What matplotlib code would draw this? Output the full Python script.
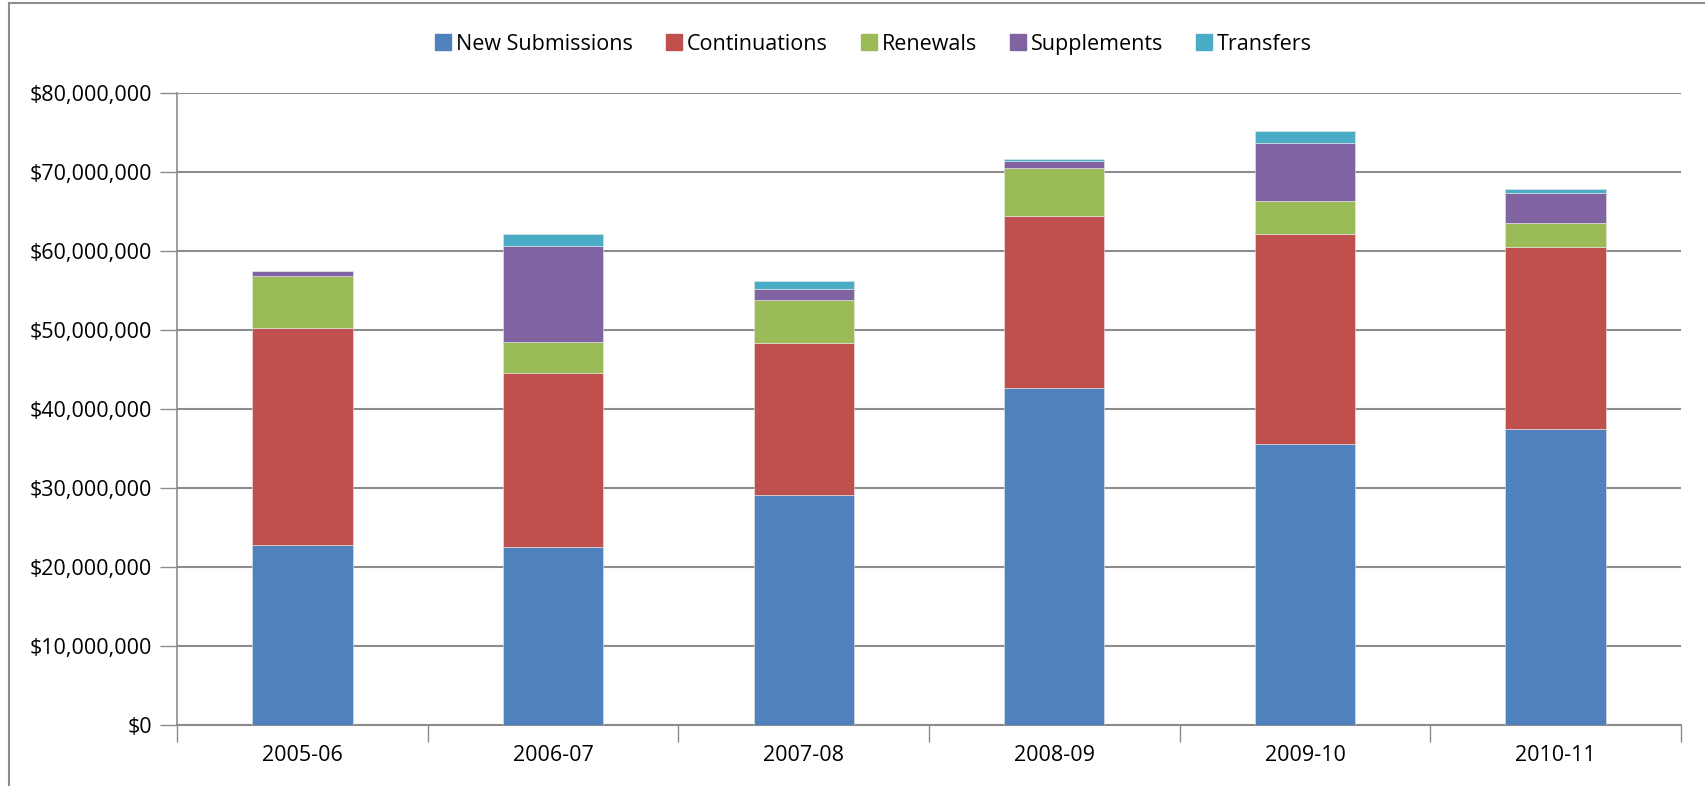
import numpy as np
import matplotlib.pyplot as plt
from matplotlib.ticker import FuncFormatter, FixedLocator
from matplotlib.lines import Line2D

plt.rcParams['font.family'] = ['Open Sans', 'DejaVu Sans']

years = ["2005-06", "2006-07", "2007-08", "2008-09", "2009-10", "2010-11"]
# values in dollars
new_sub = [22.8e6, 22.5e6, 29.1e6, 42.7e6, 35.6e6, 37.5e6]
contin = [27.5e6, 22.1e6, 19.25e6, 21.8e6, 26.6e6, 23.0e6]
renewals = [6.5e6, 3.95e6, 5.5e6, 6.0e6, 4.2e6, 3.1e6]
supplements = [0.65e6, 12.1e6, 1.35e6, 0.9e6, 7.3e6, 3.8e6]
transfers = [0.1e6, 1.5e6, 1.05e6, 0.25e6, 1.5e6, 0.5e6]

names = ["New Submissions", "Continuations", "Renewals", "Supplements", "Transfers"]
colors = ["#4F81BD", "#C0504D", "#9BBB59", "#8064A2", "#4BACC6"]
series = [new_sub, contin, renewals, supplements, transfers]

fig = plt.figure(figsize=(17.06, 7.86), dpi=100)
ax = fig.add_axes([0.1038, 0.0781, 0.8815, 0.803])

x = np.arange(len(years))
bottom = np.zeros(len(years))
for vals, c, n in zip(series, colors, names):
    vals = np.array(vals)
    ax.bar(x, vals, 0.4, bottom=bottom, color=c, edgecolor="#e8e8e8",
           linewidth=0.4, label=n, zorder=3)
    bottom += vals

ax.set_xlim(-0.5, len(years) - 0.5)
ax.set_ylim(0, 80e6)
ax.yaxis.set_major_locator(FixedLocator(np.arange(0, 80e6 + 1, 10e6)))
ax.yaxis.set_major_formatter(FuncFormatter(lambda v, p: "${:,.0f}".format(v)))
ax.grid(axis="y", color="#8c8c8c", linewidth=1.5, zorder=0)

# category boundary ticks on x axis
ax.set_xticks(np.arange(-0.5, len(years)), minor=False)
ax.set_xticklabels([])
ax.set_xticks(x, minor=True)
ax.set_xticklabels(years, minor=True)
ax.tick_params(axis="x", which="major", length=12, color="#8c8c8c", width=1)
ax.tick_params(axis="x", which="minor", length=0, pad=15, labelsize=15.5)
ax.tick_params(axis="y", length=12, color="#8c8c8c", width=1, labelsize=15.5, pad=6)

for s in ["top", "right"]:
    ax.spines[s].set_visible(False)
ax.spines["left"].set_color("#8c8c8c")
ax.spines["bottom"].set_color("#8c8c8c")
ax.spines["left"].set_linewidth(1.2)
ax.spines["bottom"].set_linewidth(1.5)

handles = [Line2D([0], [0], marker="s", linestyle="none", markersize=12,
                  markerfacecolor=c, markeredgecolor=c) for c in colors]
fig.legend(handles, names, loc="center", bbox_to_anchor=(0.5125, 0.944), ncol=5,
           frameon=False, fontsize=15.5, handlelength=0.6, handletextpad=0.3,
           columnspacing=1.6)

# chart area border (left and top)
fig.add_artist(Line2D([0.0055, 0.0055], [0, 0.996], color="#8c8c8c", linewidth=1.5))
fig.add_artist(Line2D([0.0055, 1], [0.996, 0.996], color="#8c8c8c", linewidth=1.5))

fig.savefig("out.png", dpi=100)
